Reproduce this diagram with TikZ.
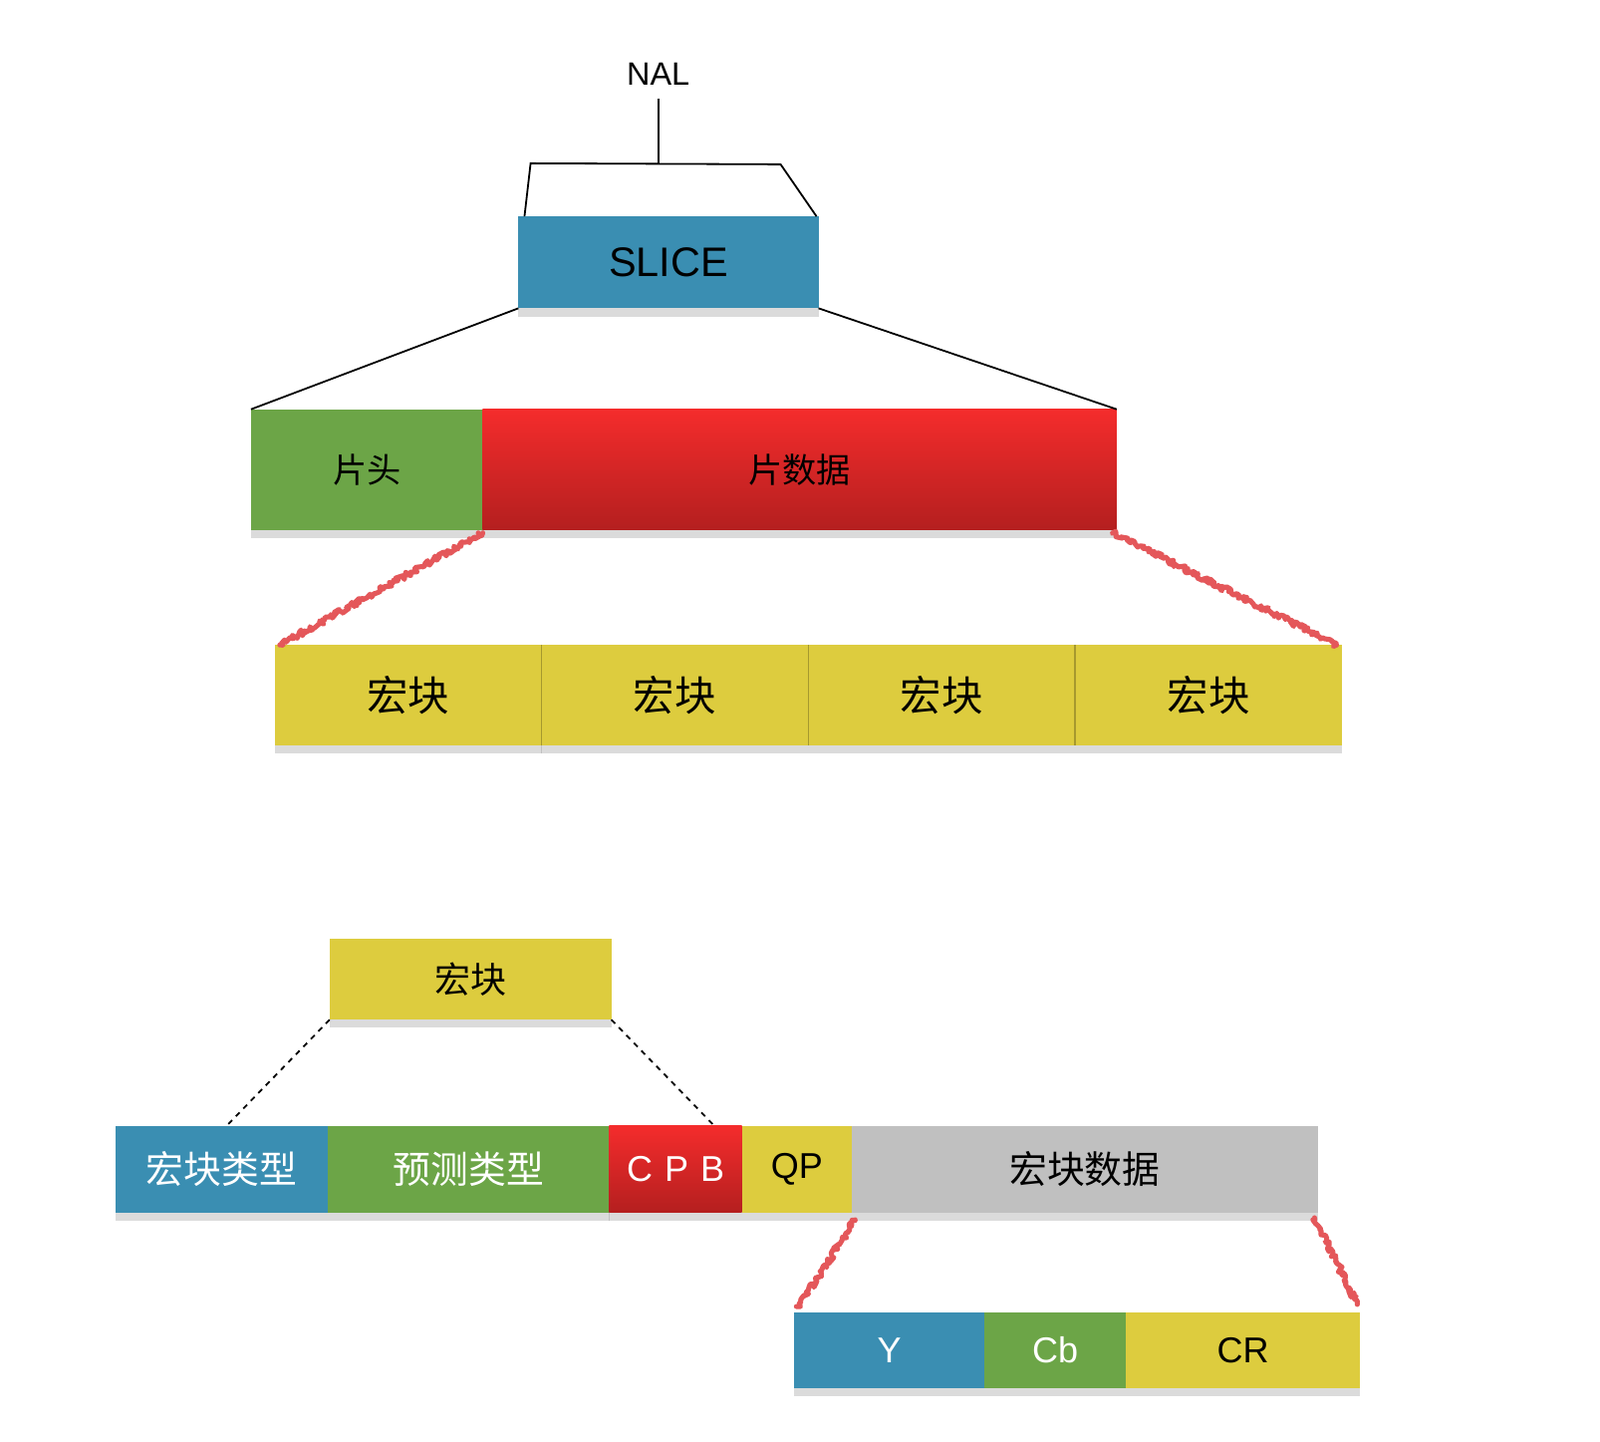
\documentclass[tikz,border=0pt]{standalone}
\usepackage{fontspec}
\setmainfont{Liberation Sans}
\newfontfamily\cjk{Noto Sans CJK SC}
\usetikzlibrary{shadows,decorations.pathmorphing}

\definecolor{boxblue}{HTML}{3A8EB2}
\definecolor{boxgreen}{HTML}{6CA547}
\definecolor{boxyellow}{HTML}{DDCC3E}
\definecolor{boxgray}{HTML}{C0C0C0}
\definecolor{redtop}{HTML}{F42C2C}
\definecolor{redbot}{HTML}{B41F1F}
\definecolor{ragred}{HTML}{E4575A}

\tikzset{
  blk/.style={anchor=north west,inner sep=0pt,outer sep=0pt,
    drop shadow={shadow xshift=0pt,shadow yshift=-0.8mm,opacity=0.28}},
  ragged/.style={draw=ragred,line width=1.4pt,line join=round,line cap=round,decorate,
    decoration={random steps,segment length=0.5pt,amplitude=0.8pt}},
  dots/.style={draw,line width=0.5pt,dash pattern=on 1.5pt off 1.5pt}
}

\begin{document}
\begin{tikzpicture}[x=0.01cm,y=-0.01cm]
\path[fill=white,use as bounding box] (0,0) rectangle (1568,1412);

% NAL / SLICE
\node[font=\fontsize{9}{11}\selectfont] (nal) at (645,73) {NAL};
\node[blk,fill=boxblue,minimum width=2.94cm,minimum height=0.9cm,
  font=\fontsize{11.5}{13}\selectfont] (slice) at (508,212) {SLICE};
\coordinate (nalmid) at (645,160);
\coordinate (brl) at (520,160);
\coordinate (brr) at (765,161);
\draw[line width=0.5pt] (nal.south) -- (nalmid);
\draw[line width=0.5pt] ([xshift=0.06cm]slice.north west) -- (brl) -- (brr) -- ([xshift=-0.02cm]slice.north east);

% slice header / data
\node[blk,fill=boxgreen,minimum width=2.27cm,minimum height=1.18cm,
  font=\fontsize{9.5}{11}\selectfont\cjk] (head) at (246,401) {片头};
\node[blk,top color=redtop,bottom color=redbot,minimum width=6.21cm,minimum height=1.18cm,
  font=\fontsize{9.5}{11}\selectfont\cjk] (data) at (473,401) {片数据};
\draw[line width=0.5pt] (slice.south west) -- (head.north west);
\draw[line width=0.5pt] (slice.south east) -- (data.north east);

% macroblocks
\foreach \i in {1,...,4}{
    \node[blk,fill=boxyellow,minimum width=2.615cm,minimum height=0.98cm,
      font=\fontsize{11.5}{13}\selectfont\cjk] (mb\i) at ({269+(\i-1)*261.5},632) {宏块};
}
\foreach \i in {1,2,3}{
    \draw[boxyellow!75!black,line width=0.4pt] (mb\i.north east) -- (mb\i.south east);
}
\path[ragged] ([yshift=-0.03cm]head.south east) -- ([xshift=0.05cm]mb1.north west);
\path[ragged] ([xshift=-0.04cm,yshift=-0.03cm]data.south east) -- ([xshift=-0.05cm]mb4.north east);

% one macroblock
\node[blk,fill=boxyellow,minimum width=2.76cm,minimum height=0.79cm,
  font=\fontsize{10}{12}\selectfont\cjk] (mbtop) at (323,920) {宏块};
\node[blk,fill=boxblue,text=white,minimum width=2.08cm,minimum height=0.85cm,
  font=\fontsize{10.5}{12}\selectfont\cjk] (mbtype) at (113,1103) {宏块类型};
\node[blk,fill=boxgreen,text=white,minimum width=2.76cm,minimum height=0.85cm,
  font=\fontsize{10.5}{12}\selectfont\cjk] (predtype) at (321,1103) {预测类型};
\node[blk,top color=redtop,bottom color=redbot,text=white,minimum width=1.3cm,minimum height=0.85cm,
  font=\fontsize{10}{12}\selectfont] (cpb) at (597,1103) {C\,\,P\,\,B};
\node[blk,fill=boxyellow,minimum width=1.08cm,minimum height=0.85cm,
  font=\fontsize{10}{12}\selectfont] (qp) at (727,1103) {QP};
\node[blk,fill=boxgray,minimum width=4.56cm,minimum height=0.85cm,
  font=\fontsize{10.5}{12}\selectfont\cjk] (mbdata) at (835,1103) {宏块数据};
\path[dots] (mbtop.south west) -- ([xshift=0.05cm]mbtype.north);
\path[dots] (mbtop.south east) -- ([xshift=0.38cm]cpb.north);

% Y Cb CR
\node[blk,fill=boxblue,text=white,minimum width=1.87cm,minimum height=0.74cm,
  font=\fontsize{10}{12}\selectfont] (y) at (778,1286) {Y};
\node[blk,fill=boxgreen,text=white,minimum width=1.38cm,minimum height=0.74cm,
  font=\fontsize{10}{12}\selectfont] (cb) at (965,1286) {Cb};
\node[blk,fill=boxyellow,minimum width=2.3cm,minimum height=0.74cm,
  font=\fontsize{10}{12}\selectfont] (cr) at (1103,1286) {CR};
\path[ragged] ([xshift=0.03cm,yshift=-0.07cm]qp.south east) -- ([xshift=0.05cm,yshift=0.06cm]y.north west);
\path[ragged] ([xshift=-0.03cm,yshift=-0.05cm]mbdata.south east) -- ([xshift=-0.03cm,yshift=0.08cm]cr.north east);
\end{tikzpicture}
\end{document}
